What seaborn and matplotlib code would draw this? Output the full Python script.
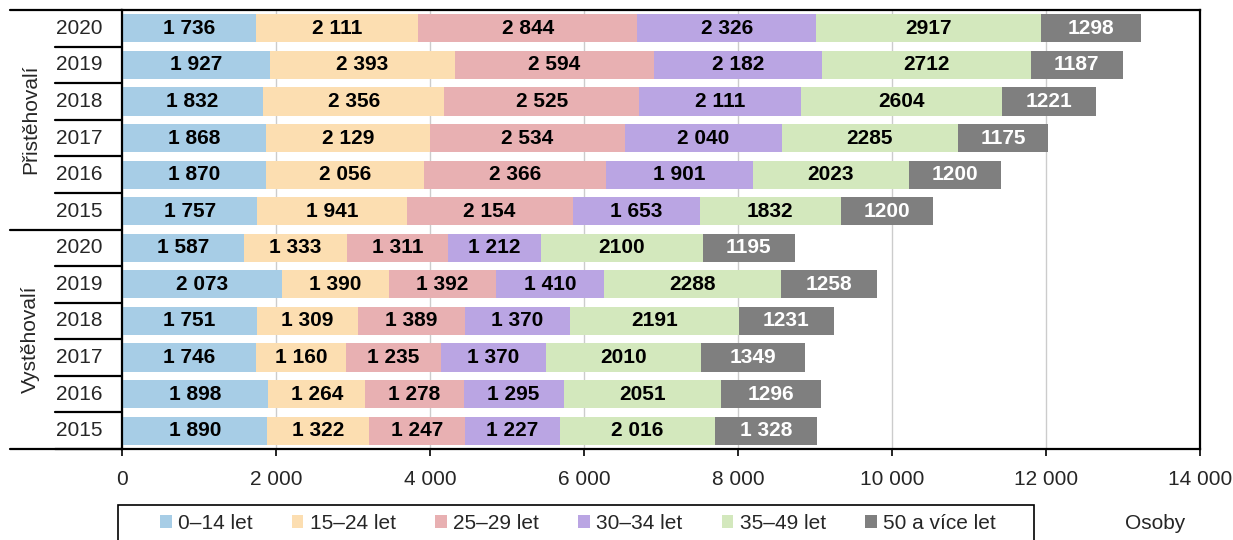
import numpy as np
import pandas as pd
import matplotlib
matplotlib.use("Agg")
import matplotlib.pyplot as plt
import seaborn as sns
from matplotlib.patches import Patch, Rectangle
from matplotlib.ticker import FuncFormatter

years = ["2020", "2019", "2018", "2017", "2016", "2015"]
groups = ["Přistěhovalí", "Vystěhovalí"]
ages = ["0–14 let", "15–24 let", "25–29 let", "30–34 let", "35–49 let", "50 a více let"]
colors = ["#a7cde6", "#fcdeb1", "#e8b0b2", "#baa5e3", "#d3e8bd", "#7f7f7f"]

# rows 2020..2015, Přistěhovalí
prist_0_14 = [1736, 1927, 1832, 1868, 1870, 1757]
prist_15_24 = [2111, 2393, 2356, 2129, 2056, 1941]
prist_25_29 = [2844, 2594, 2525, 2534, 2366, 2154]
prist_30_34 = [2326, 2182, 2111, 2040, 1901, 1653]
prist_35_49 = [2917, 2712, 2604, 2285, 2023, 1832]
prist_50 = [1298, 1187, 1221, 1175, 1200, 1200]

# rows 2020..2015, Vystěhovalí
vyst_0_14 = [1587, 2073, 1751, 1746, 1898, 1890]
vyst_15_24 = [1333, 1390, 1309, 1160, 1264, 1322]
vyst_25_29 = [1311, 1392, 1389, 1235, 1278, 1247]
vyst_30_34 = [1212, 1410, 1370, 1370, 1295, 1227]
vyst_35_49 = [2100, 2288, 2191, 2010, 2051, 2016]
vyst_50 = [1195, 1258, 1231, 1349, 1296, 1328]

sns.set_theme(style="white")
plt.rcParams["font.family"] = ["Liberation Sans", "DejaVu Sans"]
FS = 15

rows = [g[0] + y for g in groups for y in years]
vals = np.array([
    prist_0_14 + vyst_0_14,
    prist_15_24 + vyst_15_24,
    prist_25_29 + vyst_25_29,
    prist_30_34 + vyst_30_34,
    prist_35_49 + vyst_35_49,
    prist_50 + vyst_50,
])
cum = vals.cumsum(axis=0)

fig = plt.figure(figsize=(12.33, 5.4), dpi=100)
ax = fig.add_axes([0.0989, 0.1685, 0.8743, 0.813])

# draw longest first, shorter cumulative bars on top
for k in range(len(ages) - 1, -1, -1):
    df = pd.DataFrame({"row": rows, "x": cum[k]})
    sns.barplot(data=df, y="row", x="x", order=rows, color=colors[k],
                saturation=1, width=0.77, errorbar=None, ax=ax,
                linewidth=0, zorder=2)

def fmt(v, spaced=True):
    s = str(int(v))
    if spaced and len(s) > 3:
        s = s[:-3] + " " + s[-3:]
    return s

for k in range(len(ages)):
    for i in range(len(rows)):
        left = cum[k][i] - vals[k][i]
        spaced = k < 4 or rows[i] == "V2015"
        ax.text(left + vals[k][i] / 2, i, fmt(vals[k][i], spaced),
                ha="center", va="center", fontsize=FS, fontweight="bold",
                color="white" if k == 5 else "black", zorder=3)

ax.set_xlim(0, 14000)
ax.set_ylim(11.5, -0.5)
ax.set_xticks(range(0, 14001, 2000))
ax.xaxis.set_major_formatter(FuncFormatter(lambda v, p: fmt(v)))
ax.tick_params(axis="x", labelsize=FS, length=5, width=1.2, color="black",
               bottom=True, pad=10)
ax.set_yticks([])
ax.set_xlabel("")
ax.set_ylabel("")
ax.grid(axis="x", color="#cccccc", linewidth=1, zorder=0)
ax.set_axisbelow(True)
for side in ["top", "bottom", "left", "right"]:
    ax.spines[side].set_visible(True)
    ax.spines[side].set_color("black")
    ax.spines[side].set_linewidth(1.6)

# multi-level category axis
tr = ax.get_yaxis_transform()
for i, r in enumerate(rows):
    ax.text(-0.04, i, r[1:], transform=tr, ha="center", va="center",
            fontsize=FS, clip_on=False)
for i in range(12):
    if i == 5:
        continue
    ax.plot([-0.062, 0], [i + 0.5, i + 0.5], transform=tr, color="black",
            lw=1.6, clip_on=False)
for yv in (-0.5, 5.5, 11.5):
    ax.plot([-0.104, 0], [yv, yv], transform=tr, color="black", lw=1.6,
            clip_on=False)
for gi, g in enumerate(groups):
    ax.text(-0.085, gi * 6 + 2.5, g, transform=tr, ha="center", va="center",
            rotation=90, fontsize=FS, clip_on=False)

# legend box (runs off the bottom edge as in the original)
fig.patches.append(Rectangle((0.0957, -0.03), 0.7429, 0.0948,
                             transform=fig.transFigure, fill=False,
                             edgecolor="black", linewidth=1.2, clip_on=False))
handles = [Patch(facecolor=c, edgecolor="none") for c in colors]
fig.legend(handles, ages, loc="center left", ncol=6,
           bbox_to_anchor=(0.1298, 0.031), borderaxespad=0, borderpad=0,
           fontsize=FS, frameon=False,
           handlelength=0.55, handleheight=0.55, handletextpad=0.3,
           columnspacing=1.9)

fig.text(0.937, 0.031, "Osoby", ha="center", va="center", fontsize=FS)

fig.savefig("out.png", dpi=100)
